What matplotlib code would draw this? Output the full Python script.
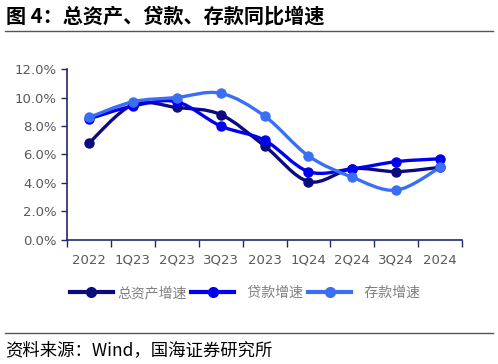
import matplotlib.pyplot as plt
from matplotlib.path import Path
from matplotlib.patches import PathPatch
from matplotlib.lines import Line2D
import numpy as np

plt.rcParams['font.family'] = ['Noto Sans CJK SC', 'DejaVu Sans']

# 数据
periods = ['2022', '1Q23', '2Q23', '3Q23', '2023', '1Q24', '2Q24', '3Q24', '2024']
total_assets = [6.8, 9.5, 9.3, 8.8, 6.6, 4.1, 5.0, 4.8, 5.1]
loans = [8.5, 9.4, 9.7, 8.0, 7.0, 4.8, 5.0, 5.5, 5.7]
deposits = [8.6, 9.7, 10.0, 10.3, 8.7, 5.9, 4.4, 3.5, 5.1]
series_names = ['总资产增速', '   贷款增速', '   存款增速']
colors = ['#0B0B7F', '#0000F0', '#3A6EF5']


def smooth_path(xs, ys, k=1/6):
    # Catmull-Rom 转 Bezier，类似 Excel 平滑线
    verts = [(xs[0], ys[0])]
    codes = [Path.MOVETO]
    n = len(xs)
    for i in range(n - 1):
        x0, y0 = (xs[i - 1], ys[i - 1]) if i > 0 else (xs[i], ys[i])
        x1, y1 = xs[i], ys[i]
        x2, y2 = xs[i + 1], ys[i + 1]
        x3, y3 = (xs[i + 2], ys[i + 2]) if i + 2 < n else (x2, y2)
        c1 = (x1 + (x2 - x0) * k, y1 + (y2 - y0) * k)
        c2 = (x2 - (x3 - x1) * k, y2 - (y3 - y1) * k)
        verts += [c1, c2, (x2, y2)]
        codes += [Path.CURVE4] * 3
    return Path(verts, codes)


fig = plt.figure(figsize=(4.98, 3.64), dpi=100)
ax = fig.add_axes([0.1345, 0.3407, 0.7935, 0.4697])

x = np.arange(len(periods))
for vals, c in zip([total_assets, loans, deposits], colors):
    ax.add_patch(PathPatch(smooth_path(x, vals), facecolor='none', edgecolor=c,
                           lw=2.4, capstyle='round', joinstyle='round'))
    ax.plot(x, vals, 'o', color=c, ms=6.5, zorder=3)

ax.set_xlim(-0.5, len(periods) - 0.5)
ax.set_ylim(0, 12)
ax.set_yticks(np.arange(0, 12.1, 2))
ax.set_yticklabels([f'{v:.1f}%' for v in np.arange(0, 12.1, 2)])
ax.set_xticks(x)
ax.set_xticklabels(periods)
ax.set_xticks(np.arange(-0.5, len(periods)), minor=True)
ax.tick_params(axis='x', which='major', length=0, pad=10)
ax.tick_params(axis='x', which='minor', length=5, color='#1F2A6B', width=1)
ax.tick_params(axis='y', length=4, color='#1F2A6B', width=1)
ax.tick_params(labelsize=9.5, labelcolor='#595959')
for lab in ax.get_xticklabels() + ax.get_yticklabels():
    lab.set_family('DejaVu Sans')
for s in ['top', 'right']:
    ax.spines[s].set_visible(False)
for s in ['left', 'bottom']:
    ax.spines[s].set_color('#1F2A6B')
    ax.spines[s].set_linewidth(1.2)

handles = [Line2D([0], [0], color=c, lw=3, marker='o', ms=7) for c in colors]
fig.legend(handles, series_names, loc='center left', bbox_to_anchor=(0.115, 0.195), ncol=3,
           frameon=False, fontsize=10, labelcolor='#7F7F7F', handlelength=3.1,
           handletextpad=0.3, columnspacing=0.35)

# 标题与来源
fig.text(0.012, 0.955, '图 4：总资产、贷款、存款同比增速', fontsize=14.5, fontweight='bold',
         va='center', ha='left')
fig.add_artist(Line2D([0.01, 0.99], [0.915, 0.915], color='#555555', lw=1))
fig.add_artist(Line2D([0.01, 0.99], [0.085, 0.085], color='#555555', lw=1))
fig.text(0.01, 0.038, '资料来源：Wind，国海证券研究所', fontsize=12.5, va='center', ha='left')

fig.savefig('out.png', dpi=100)
